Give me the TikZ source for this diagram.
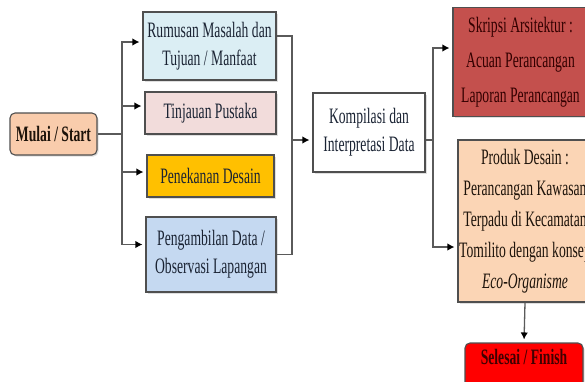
\documentclass[tikz,border=0pt]{standalone}
\usepackage{fontspec}
\setmainfont[FakeStretch=0.62]{Liberation Serif}
\usetikzlibrary{arrows.meta,calc,shadows}
\definecolor{boxline}{HTML}{4F4F4F}
\definecolor{wire}{HTML}{5A5A5A}
\definecolor{inkdark}{HTML}{1A2333}
\definecolor{peach}{HTML}{F9CCAC}
\definecolor{skyblue}{HTML}{DBEEF4}
\definecolor{rosepink}{HTML}{F2DCDB}
\definecolor{amber}{HTML}{FFC000}
\definecolor{steelblue}{HTML}{C5D9F1}
\definecolor{brick}{HTML}{C4504D}
\definecolor{sand}{HTML}{FBD5B5}
\definecolor{signal}{HTML}{FF0000}

\begin{document}
\begin{tikzpicture}[x=1pt,y=-1pt,
  box/.style={draw=boxline, line width=1.1pt, inner sep=0pt, align=center,
    text=inkdark, font=\fontsize{22}{28}\selectfont,
    drop shadow={shadow xshift=1.5pt, shadow yshift=-1.5pt, fill=gray!50}},
  wire/.style={draw=wire, line width=1.3pt},
  arr/.style={wire, -{Latex[length=7pt,width=7.5pt,color=black]}, shorten >=3pt}]
\useasboundingbox (0,0) rectangle (585,381);
\clip (0,0) rectangle (585,381);

% start and the four study steps
\node[box, fill=peach, rounded corners=5pt, minimum width=87, minimum height=42,
  text=black!85!brown, font=\fontsize{22}{28}\selectfont\bfseries] (start) at (53.5,134) {Mulai / Start};
\node[box, fill=skyblue, minimum width=133, minimum height=68] (rumusan) at (209.5,46) {Rumusan Masalah dan\\Tujuan / Manfaat};
\node[box, fill=rosepink, minimum width=131, minimum height=42] (tinjauan) at (210.5,113) {Tinjauan Pustaka};
\node[box, fill=amber, minimum width=127, minimum height=42] (penekanan) at (210.5,176) {Penekanan Desain};
\node[box, fill=steelblue, minimum width=130, minimum height=75] (pengambilan) at (211,254.5) {Pengambilan Data /\\Observasi Lapangan};

% compilation
\node[box, fill=white, minimum width=112, minimum height=79] (kompilasi) at (369,132.5) {Kompilasi dan\\Interpretasi Data};

% outputs
\node[box, fill=brick, minimum width=135, minimum height=109, text=black!80!red,
  font=\fontsize{22}{35}\selectfont] (skripsi) at (520.5,62) {Skripsi Arsitektur :\\Acuan Perancangan\\Laporan Perancangan};
\node[box, fill=sand, minimum width=134, minimum height=162, text=black!85!brown,
  font=\fontsize{22}{31}\selectfont] (produk) at (525,221) {Produk Desain :\\Perancangan Kawasan\\Terpadu di Kecamatan\\Tomilito dengan konsep\\\textit{Eco-Organisme}};
\node[box, fill=signal, rounded corners=5pt, minimum width=118, minimum height=48,
  text=black!75!red, font=\fontsize{22}{28}\selectfont\bfseries] (selesai) at (524,367) {Selesai / Finish\\[-8pt]};

% start to the steps
\coordinate (busL) at (122,134);
\draw[wire] (start.east) -- (busL);
\draw[arr] (busL) |- ([yshift=4pt]rumusan.west);
\draw[arr] (busL) |- ([yshift=7pt]tinjauan.west);
\draw[arr] (busL) |- ([yshift=4pt]penekanan.west);
\draw[arr] (busL) |- ([yshift=10pt]pengambilan.west);

% steps to compilation
\coordinate (busR) at (292,140);
\draw[wire] ([yshift=10pt]rumusan.east) -| (busR) |- (pengambilan.east);
\draw[arr] (busR) -- (busR -| kompilasi.west);

% compilation to outputs
\coordinate (busK) at (433,140);
\draw[wire] (busK -| kompilasi.east) -- (busK);
\draw[arr] (busK) |- ([yshift=14pt]skripsi.west);
\draw[arr] (busK) |- ([yshift=-26pt]produk.west);
\draw[arr] (produk.south) -- (selesai.north);
\end{tikzpicture}
\end{document}
